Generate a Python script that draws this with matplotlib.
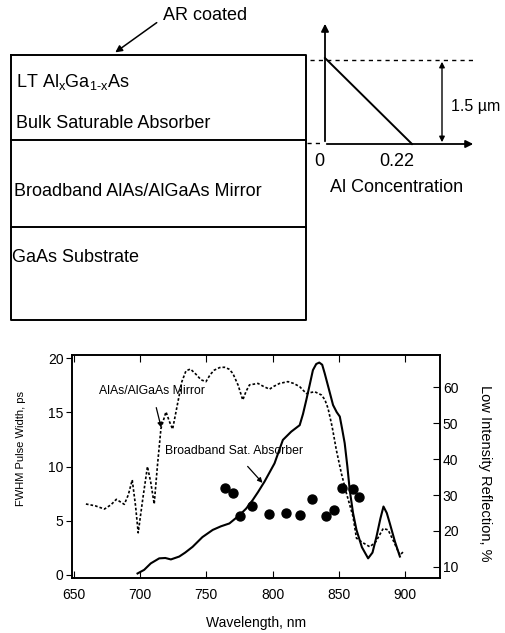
import matplotlib
matplotlib.use("Agg")
import matplotlib.pyplot as plt
import numpy as np

plt.rcParams['font.family'] = ['Liberation Sans', 'DejaVu Sans']
plt.rcParams['mathtext.fontset'] = 'custom'
plt.rcParams['mathtext.rm'] = 'Liberation Sans'
plt.rcParams['mathtext.it'] = 'Liberation Sans'

# ---------------- data ----------------
mirror_wl = [659, 666, 673, 678, 682, 688, 691, 694, 696.5, 698.5, 702, 705.5, 708, 710.6,
             713, 715.7, 719.5, 722, 724.5, 728.8, 731.5, 734.6, 738, 742, 746, 749.7,
             753, 756, 760, 763.6, 767, 770, 774, 777.5, 780, 782.6, 789, 793, 797.7,
             801, 805.3, 811.6, 816, 820.5, 825.5, 831.8, 836.9, 839.5, 841.9, 845, 848.2,
             852, 855.8, 860.8, 863.4, 868, 873.5, 878, 883.6, 887.3, 891, 896.2, 898.7]
mirror_R = [27.5, 27.0, 26.1, 27.3, 28.8, 27.4, 30.0, 34.2, 27.0, 19.5, 29.0, 37.9, 33.5, 27.5,
            38.0, 48.5, 53.1, 50.5, 48.3, 56.4, 61.5, 64.5, 65.0, 63.6, 62.0, 61.5,
            63.5, 64.7, 65.4, 65.5, 65.0, 63.8, 60.5, 56.4, 58.8, 60.6, 61.0, 60.2, 59.4,
            60.2, 61.0, 61.5, 61.0, 60.1, 58.2, 58.7, 57.8, 56.5, 54.1, 49.0, 42.5,
            36.0, 30.5, 24.0, 18.0, 16.8, 15.6, 17.0, 20.7, 20.3, 17.5, 13.3, 14.2]

absorber_wl = [698, 703, 708, 714.4, 719, 723.2, 729.5, 734, 739.6, 747, 754.8, 761, 767.4,
               775, 780, 785, 789, 793.9, 801.5, 807.8, 814.1, 820.5, 823, 825.5, 828,
               830.5, 833, 835.3, 837.5, 839.4, 842.5, 845.7, 848.5, 850.8, 852.5, 854.5,
               856.5, 858.3, 860.8, 863.4, 867.5, 872.2, 875.5, 878.5, 881.5, 883.8,
               886.3, 888.6, 892.5, 896.2]
absorber_R = [8.2, 9.2, 11.0, 12.4, 12.5, 12.1, 12.9, 14.0, 15.6, 18.3, 20.3, 21.3, 22.1,
              24.4, 26.2, 28.6, 30.8, 33.7, 38.8, 45.3, 47.6, 49.4, 52.5, 56.4, 60.5,
              64.7, 66.4, 66.8, 66.2, 63.8, 59.5, 55.0, 53.0, 51.8, 48.5, 44.4,
              38.0, 31.4, 25.0, 20.3, 15.5, 12.4, 14.0, 18.4, 23.5, 26.8,
              25.0, 22.1, 17.0, 12.9]

dots_wl = [764.4, 769.9, 775.5, 784.6, 797, 809.8, 821, 829.5, 840.2, 846.4, 852.8, 860.8, 865.4]
dots_ps = [8.05, 7.6, 5.4, 6.4, 5.6, 5.7, 5.5, 7.0, 5.4, 6.0, 8.0, 7.9, 7.2]

xticks = [650, 700, 750, 800, 850, 900]
lticks = [0, 5, 10, 15, 20]
rticks = [10, 20, 30, 40, 50, 60]

W, H = 505, 633
fig = plt.figure(figsize=(W / 100, H / 100), dpi=100)

# ---------------- top schematic (pixel coords) ----------------
axd = fig.add_axes([0, 0, 1, 1])
axd.set_xlim(0, W)
axd.set_ylim(H, 0)
axd.axis('off')

lw = 1.4
axd.plot([11, 306, 306, 11, 11], [55, 55, 320, 320, 55], color='k', lw=lw)
axd.plot([11, 306], [140, 140], color='k', lw=lw)
axd.plot([11, 306], [227, 227], color='k', lw=lw)

fs = 13
axd.text(16, 82, r'LT Al$_{\mathrm{x}}$Ga$_{\mathrm{1\text{-}x}}$As', fontsize=fs, va='center', ha='left')
axd.text(16, 123, 'Bulk Saturable Absorber', fontsize=fs, va='center', ha='left')
axd.text(14, 192, 'Broadband AlAs/AlGaAs Mirror', fontsize=fs, va='center', ha='left')
axd.text(12, 258, 'GaAs Substrate', fontsize=fs, va='center', ha='left')

axd.text(163, 15, 'AR coated', fontsize=fs, va='center', ha='left')
axd.annotate('', xy=(113, 54), xytext=(159, 21),
             arrowprops=dict(arrowstyle='-|>', color='k', lw=1.1, mutation_scale=10))

# small Al concentration diagram
axd.annotate('', xy=(325, 21), xytext=(325, 144),
             arrowprops=dict(arrowstyle='-|>', color='k', lw=1.3, mutation_scale=11))
axd.annotate('', xy=(476, 144), xytext=(324, 144),
             arrowprops=dict(arrowstyle='-|>', color='k', lw=1.3, mutation_scale=11))
axd.plot([310, 473], [60, 60], color='k', lw=1.0, ls=(0, (3, 3)))
axd.plot([307, 323], [143, 143], color='k', lw=1.0, ls=(0, (3, 3)))
axd.plot([325, 412], [58, 144], color='k', lw=1.4)
axd.annotate('', xy=(442, 59), xytext=(442, 145),
             arrowprops=dict(arrowstyle='<|-|>', color='k', lw=1.0, mutation_scale=8))
axd.text(451, 107, '1.5 µm', fontsize=11.5, va='center', ha='left')
axd.text(319, 162, '0', fontsize=fs, va='center', ha='center')
axd.text(397, 162, '0.22', fontsize=fs, va='center', ha='center')
axd.text(397, 187, 'Al Concentration', fontsize=fs, va='center', ha='center')

# ---------------- bottom plot ----------------
x0, x1, y0, y1 = 72, 440, 355, 578
ax = fig.add_axes([x0 / W, 1 - y1 / H, (x1 - x0) / W, (y1 - y0) / H])
ax.set_xlim(648.5, 926.5)
ax.set_ylim(-0.28, 20.3)
ax2 = ax.twinx()
ax2.set_ylim(6.94, 68.9)

ax2.plot(mirror_wl, mirror_R, color='k', lw=1.2, ls=(0, (1.6, 1.2)))
ax2.plot(absorber_wl, absorber_R, color='k', lw=1.5)
ax.scatter(dots_wl, dots_ps, s=42, color='k', zorder=5)

ax.set_xticks(xticks)
ax.set_yticks(lticks)
ax2.set_yticks(rticks)
tfs = 10
ax.tick_params(axis='x', direction='in', top=True, labelsize=tfs, length=5, pad=7)
ax.tick_params(axis='y', direction='out', labelsize=tfs, length=4, pad=2)
ax2.tick_params(axis='y', direction='in', labelsize=tfs, length=5, pad=2)
for a in (ax, ax2):
    for s in a.spines.values():
        s.set_linewidth(1.2)

ax.set_xlabel('Wavelength, nm', fontsize=10, labelpad=10)
fig.text(21 / W, 1 - 448 / H, 'FWHM Pulse Width, ps', fontsize=8, rotation=90,
         ha='center', va='center')
fig.text(485 / W, 1 - 473 / H, 'Low Intensity Reflection, %', fontsize=10.5, rotation=-90,
         ha='center', va='center')

ax.annotate('AlAs/AlGaAs Mirror', xy=(715.9, 13.6), xytext=(709, 17.0),
            fontsize=8.8, ha='center', va='center',
            arrowprops=dict(arrowstyle='-|>', color='k', lw=0.9, mutation_scale=7,
                            shrinkA=6, shrinkB=0))
ax.annotate('Broadband Sat. Absorber', xy=(792.4, 8.5), xytext=(771, 11.4),
            fontsize=8.8, ha='center', va='center',
            arrowprops=dict(arrowstyle='-|>', color='k', lw=0.9, mutation_scale=7,
                            shrinkA=6, shrinkB=0))

fig.savefig('out.png', dpi=100)
